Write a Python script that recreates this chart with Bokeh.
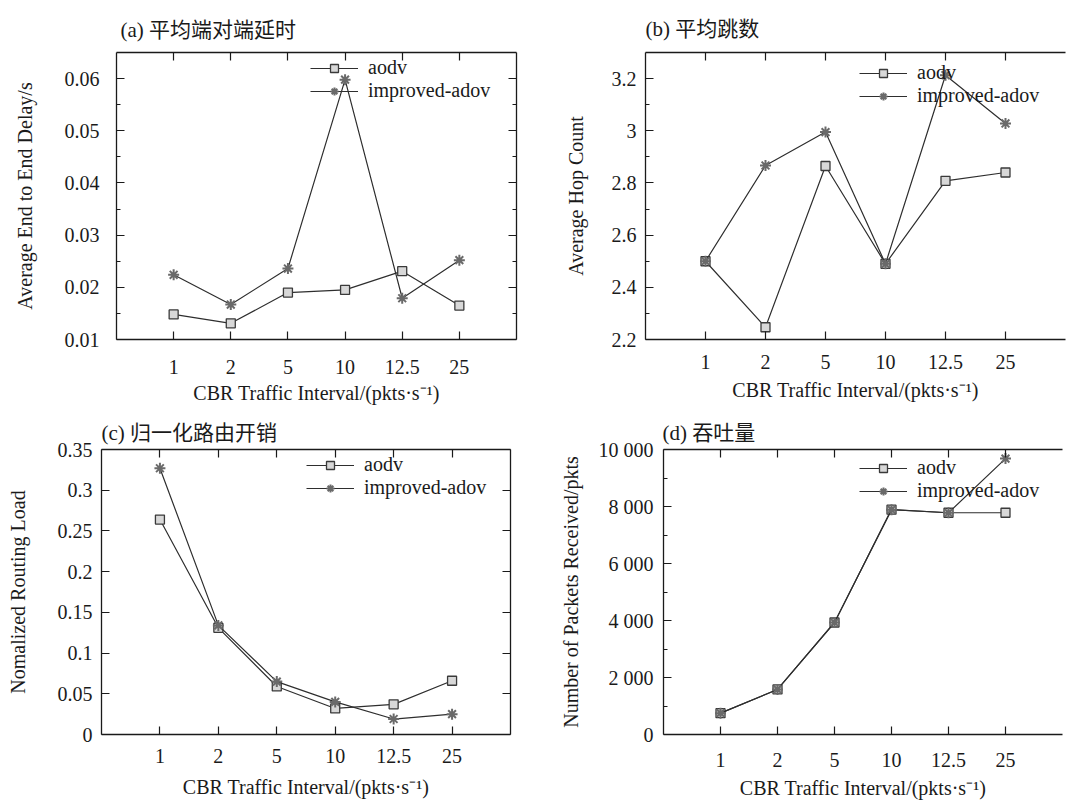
from bokeh.plotting import figure
from bokeh.layouts import column, row
from bokeh.models import (FactorRange, Range1d, FixedTicker, LinearAxis, CategoricalAxis,
                          Title, Legend, LegendItem, ColumnDataSource)
from bokeh.embed import file_html
from bokeh.resources import INLINE

# ---------------- data ----------------
x_labels = ["1", "2", "5", "10", "12.5", "25"]
series_names = ["aodv", "improved-adov"]

a_aodv = [0.0148, 0.0131, 0.0190, 0.0195, 0.0231, 0.0165]
a_impr = [0.0224, 0.0167, 0.0236, 0.0598, 0.0179, 0.0252]

b_aodv = [2.50, 2.247, 2.865, 2.49, 2.808, 2.84]
b_impr = [2.50, 2.867, 2.995, 2.49, 3.213, 3.028]

c_aodv = [0.264, 0.131, 0.059, 0.032, 0.037, 0.066]
c_impr = [0.327, 0.134, 0.065, 0.040, 0.019, 0.025]

d_aodv = [750, 1580, 3930, 7890, 7780, 7780]
d_impr = [750, 1580, 3930, 7890, 7780, 9680]

titles = ["(a) 平均端对端延时", "(b) 平均跳数", "(c) 归一化路由开销", "(d) 吞吐量"]
y_labels = ["Average End to End Delay/s", "Average Hop Count",
            "Nomalized Routing Load", "Number of Packets Received/pkts"]
x_title = "CBR Traffic Interval/(pkts·s⁻¹)"

a_ticks = [0.01, 0.02, 0.03, 0.04, 0.05, 0.06]
a_minor = [0.015, 0.025, 0.035, 0.045, 0.055]
b_ticks = [2.2, 2.4, 2.6, 2.8, 3.0, 3.2]
b_minor = [2.3, 2.5, 2.7, 2.9, 3.1]
c_ticks = [0, 0.05, 0.1, 0.15, 0.2, 0.25, 0.3, 0.35]
d_ticks = [0, 2000, 4000, 6000, 8000, 10000]
d_minor = [1000, 3000, 5000, 7000, 9000]
b_tick_text = {2.2: "2.2", 2.4: "2.4", 2.6: "2.6", 2.8: "2.8", 3.0: "3", 3.2: "3.2"}
c_tick_text = {0: "0", 0.05: "0.05", 0.1: "0.1", 0.15: "0.15", 0.2: "0.2",
               0.25: "0.25", 0.3: "0.3", 0.35: "0.35"}
d_tick_text = {0: "0", 2000: "2 000", 4000: "4 000", 6000: "6 000",
               8000: "8 000", 10000: "10 000"}

SERIF = "Liberation Serif"
TITLE_FONT = "'Liberation Serif', 'Noto Sans CJK SC'"
INK = "#1a1a1a"
LINE = "#2e2e2e"


def style_axis(ax, labels=True, fs="20px"):
    ax.axis_line_color = INK
    ax.axis_line_width = 1.3
    ax.major_tick_in = 8
    ax.major_tick_out = 0
    ax.minor_tick_in = 4
    ax.minor_tick_out = 0
    ax.major_tick_line_color = INK
    ax.minor_tick_line_color = INK
    ax.major_tick_line_width = 1.2
    ax.major_label_text_font = SERIF
    ax.major_label_text_font_size = fs
    ax.major_label_text_color = INK
    ax.axis_label_text_font = SERIF
    ax.axis_label_text_font_size = "20px"
    ax.axis_label_text_font_style = "normal"
    ax.axis_label_text_color = INK
    if not labels:
        ax.major_label_text_font_size = "1px"
        ax.major_label_text_alpha = 0


def make_panel(title, ylab, aodv, impr, yr, ticks, minor, overrides, w, h, borders,
               right_axis, title_offset, title_standoff, y_lab_standoff, y_tick_standoff,
               x_lab_standoff, x_tick_standoff, legend_loc):
    bl, br, bt, bb = borders
    xr = FactorRange(factors=x_labels, range_padding=0.5, range_padding_units="absolute")
    p = figure(width=w, height=h, x_range=xr, y_range=Range1d(*yr),
               output_backend="svg", toolbar_location=None,
               min_border_left=bl, min_border_right=br, min_border_top=bt,
               min_border_bottom=bb)
    p.outline_line_color = None
    p.xgrid.visible = False
    p.ygrid.visible = False
    p.background_fill_color = "white"
    p.border_fill_color = "white"

    yt = FixedTicker(ticks=ticks, minor_ticks=minor)
    ya = p.yaxis[0]
    ya.ticker = yt
    style_axis(ya)
    ya.axis_label = ylab
    ya.axis_label_standoff = y_lab_standoff
    ya.major_label_standoff = y_tick_standoff
    if overrides:
        ya.major_label_overrides = overrides

    xa = p.xaxis[0]
    style_axis(xa)
    xa.axis_label = x_title
    xa.axis_label_standoff = x_lab_standoff
    xa.major_label_standoff = x_tick_standoff

    top = CategoricalAxis()
    style_axis(top, labels=False)
    top.major_label_standoff = 0
    p.add_layout(top, "above")
    if right_axis:
        ra = LinearAxis(ticker=FixedTicker(ticks=ticks, minor_ticks=minor))
        style_axis(ra, labels=False)
        ra.major_label_standoff = 0
        p.add_layout(ra, "right")

    src = ColumnDataSource(dict(x=x_labels, aodv=aodv, impr=impr))
    l1 = p.line("x", "aodv", source=src, line_color=LINE, line_width=1.2)
    m1 = p.scatter("x", "aodv", source=src, marker="square", size=9,
                   line_color="#3a3a3a", fill_color="#d8d8d8", line_width=1.3)
    l2 = p.line("x", "impr", source=src, line_color=LINE, line_width=1.2)
    m2 = p.scatter("x", "impr", source=src, marker="asterisk", size=11,
                   line_color="#6a6a6a", line_width=2)

    leg = Legend(items=[LegendItem(label=series_names[0], renderers=[l1, m1]),
                        LegendItem(label=series_names[1], renderers=[l2, m2])],
                 location=legend_loc, border_line_color=None,
                 background_fill_alpha=0, padding=0, margin=0,
                 glyph_width=48, glyph_height=20, spacing=0, label_standoff=10,
                 label_text_font=SERIF, label_text_font_size="20px",
                 label_text_color=INK, label_height=20)
    p.add_layout(leg, "center")

    t = Title(text=title, align="left", offset=title_offset, standoff=title_standoff,
              vertical_align="top",
              text_font=TITLE_FONT, text_font_size="21px", text_font_style="normal",
              text_color=INK)
    p.add_layout(t, "above")
    return p


# frame a: x 116-516, y 50-339
pa = make_panel(titles[0], y_labels[0], a_aodv, a_impr, (0.01, 0.065), a_ticks, a_minor,
                None, 556, 410, (116, 40, 50, 71), True, 4, 17, 26, 17, 5, 20, (194, 237))
# frame b: x 645-1065, y 52-342
pb = make_panel(titles[1], y_labels[1], b_aodv, b_impr, (2.2, 3.3), b_ticks, b_minor,
                b_tick_text, 512, 410, (89, 3, 52, 68), False, 0, 19, 22, 9, 7, 15, (214, 232))
# frame c: x 101-510, y 444-734
pc = make_panel(titles[2], y_labels[2], c_aodv, c_impr, (0.0, 0.35), c_ticks, [],
                c_tick_text, 556, 395, (101, 46, 34, 71), True, 0, 5, 26, 9, 10, 14, (205, 235))
# frame d: x 662-1062, y 449-736
pd_ = make_panel(titles[3], y_labels[3], d_aodv, d_impr, (0, 10000), d_ticks, d_minor,
                 d_tick_text, 512, 395, (106, 6, 39, 70), False, -1, 5, 14, 10, 7, 18, (196, 232))

layout = column(row(pa, pb), row(pc, pd_))
open("out.html", "w").write(file_html(layout, INLINE))
